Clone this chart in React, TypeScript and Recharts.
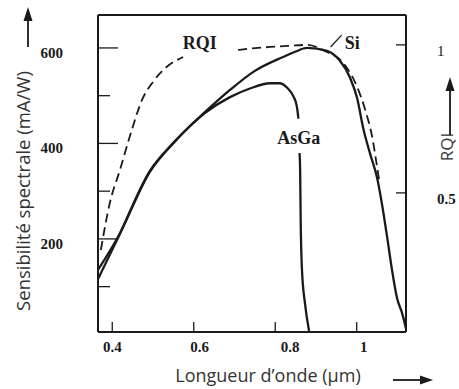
import React from 'react';
import {
  LineChart,
  Line,
  XAxis,
  YAxis,
  ReferenceLine,
  ReferenceDot,
  Label,
} from 'recharts';

// wavelength ticks (µm), left axis ticks (mA/W), right axis ticks (RQI)
const xTicks = [0.4, 0.6, 0.8, 1];
const leftTicks = [100, 200, 300, 400, 500, 600];
const rightTicks = [0.5, 1];

// Si spectral sensitivity (mA/W)
const siData = [
  { x: 0.365, y: 116 },
  { x: 0.414, y: 202 },
  { x: 0.492, y: 342 },
  { x: 0.554, y: 405 },
  { x: 0.628, y: 466 },
  { x: 0.689, y: 512 },
  { x: 0.750, y: 552 },
  { x: 0.819, y: 581 },
  { x: 0.849, y: 592 },
  { x: 0.878, y: 600 },
  { x: 0.927, y: 594 },
  { x: 0.959, y: 573 },
  { x: 0.984, y: 537 },
  { x: 1.001, y: 495 },
  { x: 1.016, y: 432 },
  { x: 1.033, y: 378 },
  { x: 1.050, y: 328 },
  { x: 1.062, y: 273 },
  { x: 1.075, y: 202 },
  { x: 1.087, y: 133 },
  { x: 1.099, y: 76 },
  { x: 1.112, y: 43 },
  { x: 1.121, y: 12 },
];

// AsGa spectral sensitivity (mA/W), broken where the label sits
const asgaData = [
  { x: 0.365, y: 135 },
  { x: 0.414, y: 204 },
  { x: 0.492, y: 340 },
  { x: 0.554, y: 404 },
  { x: 0.628, y: 464 },
  { x: 0.689, y: 497 },
  { x: 0.738, y: 515 },
  { x: 0.787, y: 526 },
  { x: 0.810, y: 526 },
  { x: 0.830, y: 516 },
  { x: 0.845, y: 498 },
  { x: 0.853, y: 478 },
  { x: 0.857, y: 452 },
  { x: 0.858, y: null },
  { x: 0.8597, y: 380 },
  { x: 0.8612, y: 342 },
  { x: 0.8625, y: 238 },
  { x: 0.8658, y: 133 },
  { x: 0.8732, y: 64 },
  { x: 0.8831, y: 7 },
];

// internal quantum efficiency RQI (right axis), broken under the label
const rqiData = [
  { x: 0.372, y: 0.307 },
  { x: 0.394, y: 0.466 },
  { x: 0.419, y: 0.578 },
  { x: 0.448, y: 0.713 },
  { x: 0.473, y: 0.814 },
  { x: 0.500, y: 0.875 },
  { x: 0.534, y: 0.926 },
  { x: 0.574, y: 0.959 },
  { x: 0.64, y: null },
  { x: 0.709, y: 0.983 },
  { x: 0.743, y: 0.988 },
  { x: 0.787, y: 0.993 },
  { x: 0.836, y: 0.997 },
  { x: 0.878, y: 1.0 },
  { x: 0.927, y: 0.976 },
  { x: 0.967, y: 0.939 },
  { x: 1.001, y: 0.858 },
  { x: 1.021, y: 0.780 },
  { x: 1.038, y: 0.689 },
  { x: 1.050, y: 0.588 },
  { x: 1.055, y: 0.544 },
];

const INK = '#1a1a1a';
const TITLE = '#333';
const SERIF = '"Liberation Serif", "DejaVu Serif", serif';
const SANS = '"Open Sans", "Noto Sans", sans-serif';

// tick labels of the scanned figure sit a bit off their ticks
const xLabelShift: Record<string, number> = { '0.4': 0, '0.6': 6, '0.8': 15, '1': 7 };

const XTick = ({ x, y, payload }: any) => (
  <g>
    <line x1={x} y1={y} x2={x} y2={y - 10} stroke={INK} strokeWidth={1.3} />
    <text
      x={x + (xLabelShift[String(payload.value)] ?? 0)}
      y={y + 15}
      textAnchor="middle"
      dominantBaseline="central"
      fontFamily={SERIF}
      fontWeight="bold"
      fontSize={15}
      fill={INK}
    >
      {String(payload.value)}
    </text>
  </g>
);

const LeftTick = ({ x, y, payload }: any) => {
  const major = payload.value % 200 === 0;
  return (
    <g>
      <line x1={x} y1={y} x2={x + (major ? 20 : 12)} y2={y} stroke={INK} strokeWidth={1.3} />
      {major && (
        <text
          x={x - 35}
          y={y + 5}
          textAnchor="end"
          dominantBaseline="central"
          fontFamily={SERIF}
          fontWeight="bold"
          fontSize={15}
          fill={INK}
        >
          {payload.value}
        </text>
      )}
    </g>
  );
};

const RightTick = ({ x, y, payload }: any) => (
  <g>
    <line x1={x - 10} y1={y} x2={x} y2={y} stroke={INK} strokeWidth={1.3} />
    <text
      x={x + 31}
      y={y + 6}
      textAnchor="start"
      dominantBaseline="central"
      fontFamily={SERIF}
      fontWeight={payload.value === 1 ? 'normal' : 'bold'}
      fontSize={15}
      fill={INK}
    >
      {String(payload.value)}
    </text>
  </g>
);

// axis titles with their arrows, placed in chart pixels
const XTitle = () => (
  <g>
    <text x={268} y={375} textAnchor="middle" dominantBaseline="central" fontFamily={SANS} fontSize={18} fill={TITLE}>
      Longueur d’onde (μm)
    </text>
    <line x1={393} y1={380} x2={424} y2={380} stroke={INK} strokeWidth={1.8} />
    <polygon points="433,380 420,375.5 420,384.5" fill={INK} />
  </g>
);

const LeftTitle = () => (
  <g>
    <text
      x={22}
      y={191}
      transform="rotate(-90 22 191)"
      textAnchor="middle"
      dominantBaseline="central"
      fontFamily={SANS}
      fontSize={18.5}
      fill={TITLE}
    >
      Sensibilité spectrale (mA/W)
    </text>
    <line x1={28} y1={47} x2={28} y2={18} stroke={INK} strokeWidth={1.8} />
    <polygon points="28,7 23.5,21 32.5,21" fill={INK} />
  </g>
);

const RightTitle = () => (
  <g>
    <text
      x={446}
      y={147}
      transform="rotate(-90 446 147)"
      textAnchor="middle"
      dominantBaseline="central"
      fontFamily={SANS}
      fontSize={17}
      fill={TITLE}
    >
      RQI
    </text>
    <line x1={450} y1={135} x2={450} y2={88} stroke={INK} strokeWidth={1.8} />
    <polygon points="450,77 445.5,91 454.5,91" fill={INK} />
  </g>
);

const curveLabel = (text: string) => ({ viewBox }: any) => (
  <text
    x={viewBox.x + viewBox.width / 2}
    y={viewBox.y + viewBox.height / 2}
    textAnchor="middle"
    dominantBaseline="central"
    fontFamily={SERIF}
    fontWeight="bold"
    fontSize={18}
    fill={INK}
  >
    {text}
  </text>
);

export default function App() {
  return (
    <div style={{ position: 'absolute', left: 0, top: 0, background: '#fff' }}>
      <LineChart width={459} height={389} margin={{ top: 15, right: 0, bottom: 0, left: 0 }}>
        <XAxis
          dataKey="x"
          type="number"
          domain={[0.365, 1.121]}
          ticks={xTicks}
          allowDataOverflow
          height={57}
          tickSize={0}
          tickMargin={0}
          tickLine={false}
          tick={<XTick />}
          axisLine={{ stroke: INK, strokeWidth: 2 }}
        >
          <Label content={<XTitle />} />
        </XAxis>
        <YAxis
          yAxisId="left"
          type="number"
          domain={[5, 669]}
          ticks={leftTicks}
          allowDataOverflow
          width={98}
          tickSize={0}
          tickMargin={0}
          tickLine={false}
          tick={<LeftTick />}
          axisLine={{ stroke: INK, strokeWidth: 2 }}
        >
          <Label content={<LeftTitle />} />
        </YAxis>
        <YAxis
          yAxisId="right"
          orientation="right"
          type="number"
          domain={[0.03, 1.101]}
          ticks={rightTicks}
          allowDataOverflow
          width={53}
          tickSize={0}
          tickMargin={0}
          tickLine={false}
          tick={<RightTick />}
          axisLine={{ stroke: INK, strokeWidth: 2 }}
        >
          <Label content={<RightTitle />} />
        </YAxis>
        <ReferenceLine yAxisId="left" y={669} stroke={INK} strokeWidth={2} />

        <Line
          yAxisId="right"
          data={rqiData}
          dataKey="y"
          type="monotone"
          stroke={INK}
          strokeWidth={1.8}
          strokeDasharray="9 5"
          dot={false}
          connectNulls={false}
          isAnimationActive={false}
        />
        <Line
          yAxisId="left"
          data={asgaData}
          dataKey="y"
          type="monotone"
          stroke={INK}
          strokeWidth={2.3}
          dot={false}
          connectNulls={false}
          isAnimationActive={false}
        />
        <Line
          yAxisId="left"
          data={siData}
          dataKey="y"
          type="monotone"
          stroke={INK}
          strokeWidth={2.3}
          dot={false}
          isAnimationActive={false}
        />

        <ReferenceLine
          yAxisId="left"
          segment={[{ x: 0.936, y: 602 }, { x: 0.963, y: 627 }]}
          stroke={INK}
          strokeWidth={1.2}
        />
        <ReferenceDot yAxisId="left" x={0.615} y={610} r={0} fill="none" stroke="none" label={curveLabel('RQI')} />
        <ReferenceDot yAxisId="left" x={0.989} y={610} r={0} fill="none" stroke="none" label={curveLabel('Si')} />
        <ReferenceDot yAxisId="left" x={0.858} y={412} r={0} fill="none" stroke="none" label={curveLabel('AsGa')} />
      </LineChart>
    </div>
  );
}
